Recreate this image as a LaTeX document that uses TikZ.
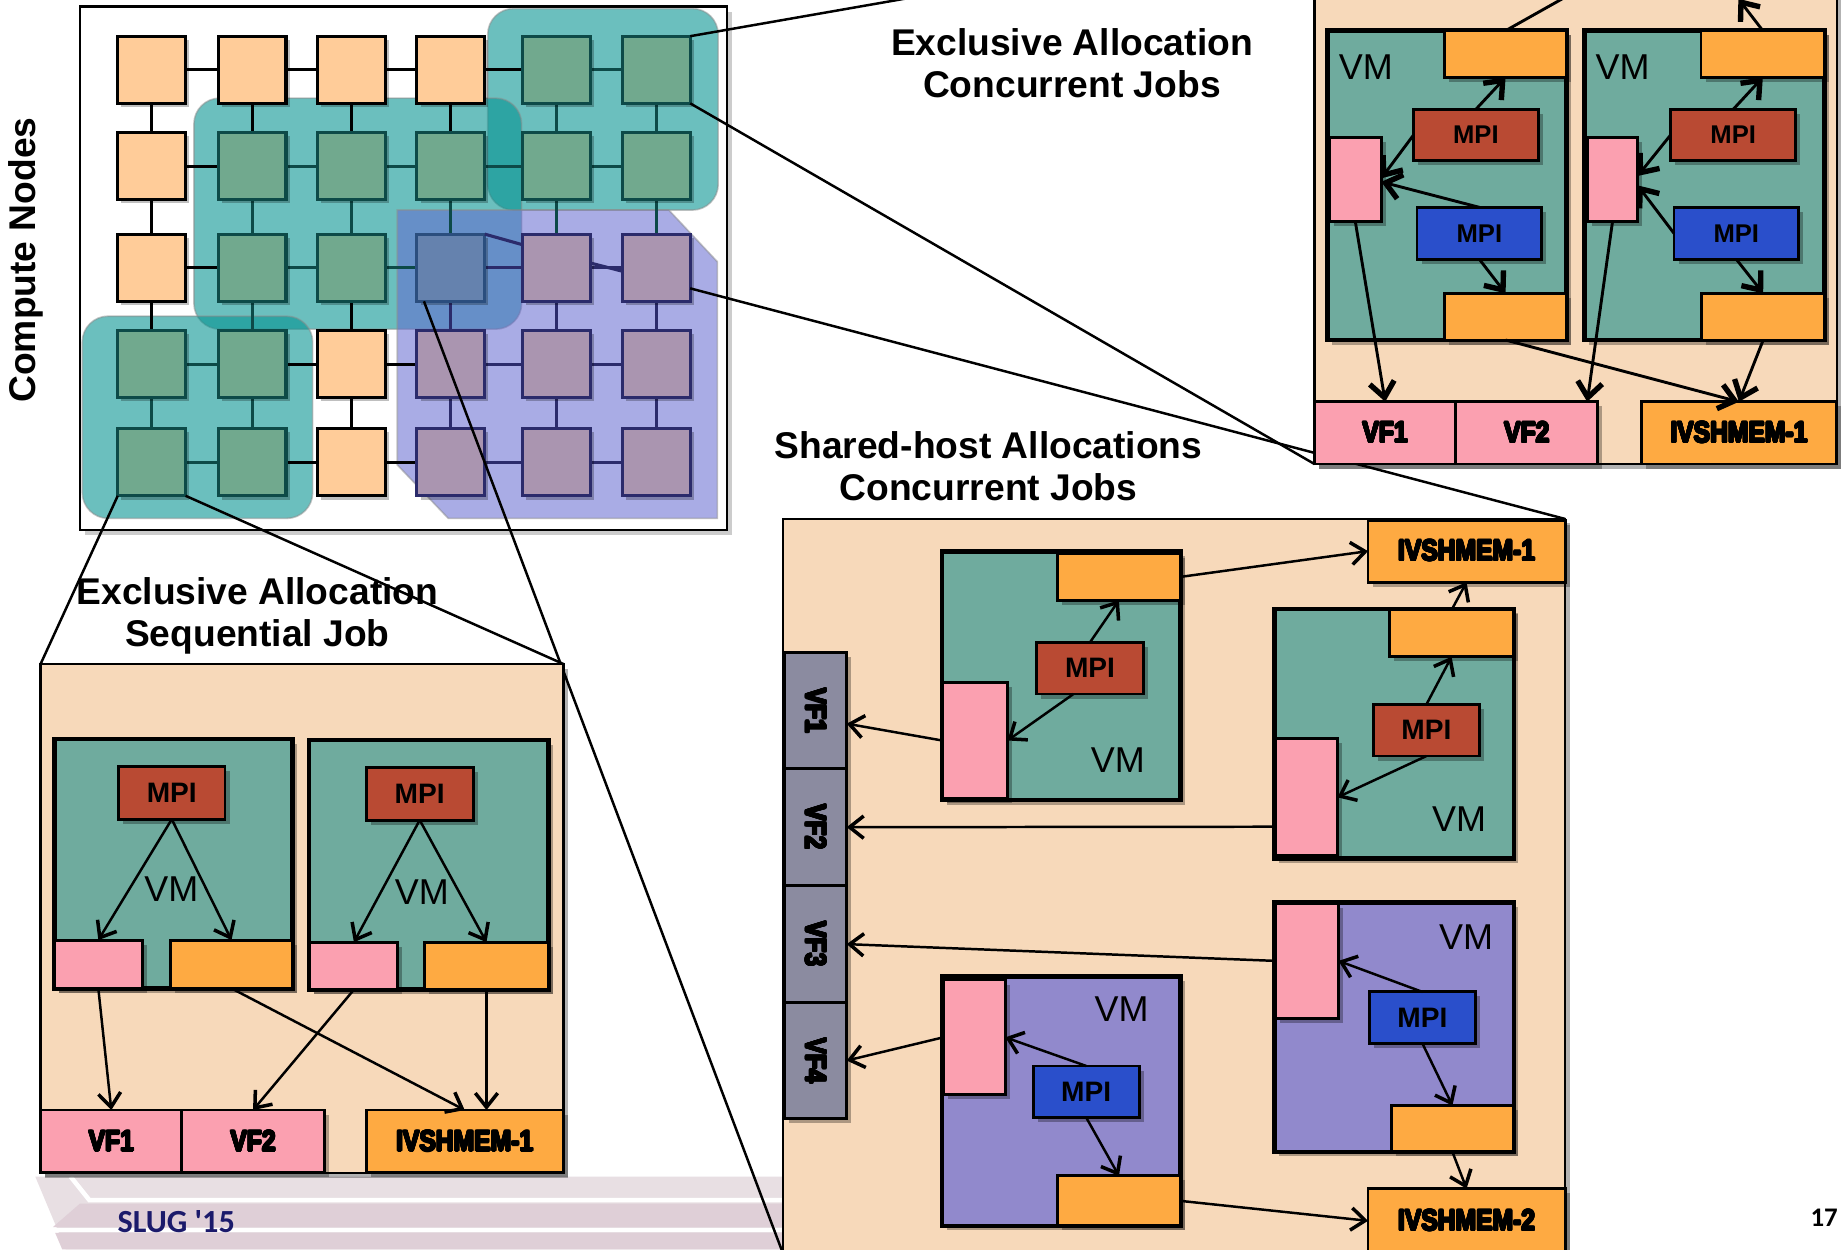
\documentclass[tikz,border=0pt]{standalone}
\usepackage{fontspec}
\usepackage{graphicx}
\usepackage[copies]{contour}
\contourlength{0.22pt}
\contournumber{16}
\setmainfont{Liberation Sans}
\newfontfamily\heavy{Liberation Sans}[FakeStretch=0.84]
\newfontfamily\calib{Carlito}
\usetikzlibrary{arrows.meta,shadows,calc}

% palette
\definecolor{peach}{HTML}{F7D9BA}
\definecolor{pinkb}{HTML}{FBA0B0}
\definecolor{orng}{HTML}{FEAA42}
\definecolor{mpir}{HTML}{B94A33}
\definecolor{mpib}{HTML}{2A4FCB}
\definecolor{vmteal}{HTML}{6FAB9E}
\definecolor{vmpurp}{HTML}{9189CC}
\definecolor{vfgray}{HTML}{8B8BA0}
\definecolor{sqor}{HTML}{FFCC99}
\definecolor{sqgr}{HTML}{71A98E}
\definecolor{sqpu}{HTML}{AA95B0}
\definecolor{sqbl}{HTML}{6582AE}
\definecolor{bdbl}{HTML}{2B4E7E}
\definecolor{lkgr}{HTML}{0D4A48}
\definecolor{lkpu}{HTML}{2B2B6B}
\definecolor{regteal}{RGB}{1,146,144}
\definecolor{regpurp}{RGB}{99,104,209}
\definecolor{slug}{HTML}{1B1A6B}
\definecolor{deco1}{HTML}{E8DFE3}
\definecolor{deco2}{HTML}{DFCFD7}

% a box given by its two corners: style, name, x1, y1, x2, y2, text
\newcommand\boxat[7]{%
  \node[#1,minimum width={((#5)-(#3))*0.01cm},minimum height={((#6)-(#4))*0.01cm}]
    (#2) at ({((#3)+(#5))/2},{((#4)+(#6))/2}) {#7};}
% heavy label text
\newcommand\hv[1]{\contour{black}{#1}}

\tikzset{
  sh/.style={drop shadow={shadow xshift=1.1pt,shadow yshift=-1.1pt,fill=black,opacity=0.3}},
  bxs/.style={rectangle,inner sep=0pt,outer sep=0pt,draw=black,line width=0.7pt,sh},
  vmt/.style={bxs,fill=vmteal,line width=1.1pt},
  vmp/.style={bxs,fill=vmpurp,line width=1.1pt},
  pk/.style={bxs,fill=pinkb},
  ob/.style={bxs,fill=orng},
  mr/.style={bxs,fill=mpir,font=\bfseries\fontsize{6.8}{7}\selectfont},
  mb/.style={bxs,fill=mpib,font=\bfseries\fontsize{6.8}{7}\selectfont},
  small/.style={font=\bfseries\fontsize{6.2}{6.5}\selectfont},
  lbl/.style={font=\heavy\bfseries\fontsize{7.1}{7.1}\selectfont},
  vf/.style={bxs,fill=pinkb,lbl},
  vfg/.style={bxs,fill=vfgray,lbl},
  iv/.style={bxs,fill=orng,lbl},
  vmtxt/.style={font=\fontsize{8.7}{9}\selectfont,inner sep=0pt},
  panel/.style={rectangle,inner sep=0pt,outer sep=0pt,draw=black,line width=0.6pt,fill=peach,sh},
  gframe/.style={rectangle,inner sep=0pt,outer sep=0pt,draw=black,line width=0.6pt,fill=white,
      drop shadow={shadow xshift=1.3pt,shadow yshift=-1.3pt,fill=black,opacity=0.2}},
  title/.style={font=\bfseries\fontsize{9}{10.2}\selectfont,align=center,inner sep=0pt},
  arr/.style={line width=0.6pt,-{Straight Barb[length=1.2mm,width=1.9mm,line width=0.85pt]}},
  arrT/.style={line width=0.7pt,-{Straight Barb[length=1.3mm,width=2.1mm,line width=1.3pt]}},
  proj/.style={line width=0.6pt,draw=black},
  link/.style={line width=0.75pt},
  sq/.style={rectangle,inner sep=0pt,outer sep=0pt,minimum width=0.577cm,minimum height=0.571cm,
      line width=0.75pt,drop shadow={shadow xshift=0.9pt,shadow yshift=-0.9pt,fill=black,opacity=0.25}},
  sqo/.style={sq,fill=sqor,draw=black},
  sqg/.style={sq,fill=sqgr,draw=lkgr},
  sqp/.style={sq,fill=sqpu,draw=lkpu},
  sqb/.style={sq,fill=sqbl,draw=bdbl},
  regT/.style={fill=regteal,fill opacity=0.58,draw=black!45,draw opacity=0.5,line width=0.4pt,rounded corners=0.22cm},
  regP/.style={fill=regpurp,fill opacity=0.55,draw=black!45,draw opacity=0.5,line width=0.4pt},
}

\begin{document}
\begin{tikzpicture}[x=0.01cm,y=-0.01cm]
\useasboundingbox (0,0) rectangle (1568,1063);
\fill[white] (0,0) rectangle (1568,1063);

% slide template bands
\fill[deco1] (30,1001) -- (668,1001) -- (668,1063) -- (56,1063) -- cycle;
\fill[deco2] (68,1024) -- (668,1024) -- (668,1044) -- (45,1044) -- cycle;
\fill[deco2] (47,1049) -- (668,1049) -- (668,1063) -- (53,1063) -- cycle;
\draw[white,line width=1.1pt] (60,1001) -- (76,1021) -- (668,1021);
\draw[white,line width=1.1pt] (42,1046.5) -- (668,1046.5);

% compute node grid
\boxat{gframe}{gp}{68}{5.5}{618.5}{451}{}
\draw[regT] (415,7.3) rectangle (611,178.7);
\draw[regT] (165,83.5) rectangle (443.8,280);
\draw[regT] (70,269) rectangle (266,441);
\draw[regP] (338,178.7) -- (569,178.7) -- (610.3,222.7) -- (610.3,441)
    -- (381.4,441) -- (338,395.5) -- cycle;

% positions of the nodes (links are drawn between them, squares on top)
\foreach \rw/\yy in {1/59.35,2/141.35,3/227.75,4/309.85,5/393.25}{
  \foreach \xx [count=\cc] in {129.05,214.45,298.95,383.55,473.35,558.35}{
    \coordinate (p-\rw-\cc) at (\xx,\yy);
  }
}
% horizontal links
\foreach \rw/\cc/\cl in {1/1/black,1/2/black,1/3/black,1/4/black,1/5/lkgr,
    2/1/black,2/2/lkgr,2/3/lkgr,2/4/lkgr,2/5/lkgr,
    3/1/black,3/2/lkgr,3/3/lkgr,3/4/lkpu,3/5/lkpu,
    4/1/lkgr,4/2/black,4/3/black,4/4/lkpu,4/5/lkpu,
    5/1/lkgr,5/2/black,5/3/black,5/4/lkpu,5/5/lkpu}{
  \pgfmathtruncatemacro\cn{\cc+1}
  \draw[link,draw=\cl] (p-\rw-\cc) -- (p-\rw-\cn);
}
% vertical links
\foreach \cc/\rw/\cl in {1/1/black,1/2/black,1/3/black,1/4/lkgr,
    2/1/black,2/2/lkgr,2/3/lkgr,2/4/lkgr,
    3/1/black,3/2/lkgr,3/3/black,3/4/black,
    4/1/black,4/2/lkgr,4/3/lkpu,4/4/lkpu,
    5/1/lkgr,5/2/lkgr,5/3/lkpu,5/4/lkpu,
    6/1/lkgr,6/2/lkgr,6/3/lkpu,6/4/lkpu}{
  \pgfmathtruncatemacro\rn{\rw+1}
  \draw[link,draw=\cl] (p-\rw-\cc) -- (p-\rn-\cc);
}
% compute nodes
\foreach \rw/\tys in {1/{o,o,o,o,g,g},2/{o,g,g,g,g,g},3/{o,g,g,b,p,p},
    4/{g,g,o,p,p,p},5/{g,g,o,p,p,p}}{
  \foreach \ty [count=\cc] in \tys {
    \edef\tmp{\noexpand\node[sq\ty] (g-\rw-\cc) at (p-\rw-\cc) {};}\tmp
  }
}
\draw[link,draw=lkpu] (g-3-4.north east) -- ($(g-3-5.north west)+(0,9)$);
\draw[link,draw=lkpu] ($(g-3-5.east)+(0,-4)$) -- ($(g-3-6.west)+(0,3)$);

\node[rotate=90,font=\bfseries\fontsize{9}{10}\selectfont,inner sep=0pt] (cn) at (21.6,221.2) {Compute Nodes};

% corners of the detail panels
\coordinate (tpNW) at (1118.4,-62);
\coordinate (tpSW) at (1118.4,394.8);
\coordinate (hpNE) at (1331.6,441.5);
\coordinate (hpSW) at (666,1066);
\coordinate (spNW) at (34.5,565);
\coordinate (spNE) at (479.5,565);

% zoom lines from the grid to the detail panels
\draw[proj] (g-1-6.north east) -- (tpNW);
\draw[proj] (g-1-6.south east) -- (tpSW);
\draw[proj] ($(g-3-6.south east)+(0,-11)$) -- (hpNE);
\draw[proj] ($(g-3-4.south west)+(6,0)$) -- (hpSW);
\draw[proj] (g-5-1.south west) -- (spNW);
\draw[proj] (g-5-1.south east) -- (spNE);

% titles
\node[title] (t1) at (912,53.5) {Exclusive Allocation\\Concurrent Jobs};
\node[title] (t2) at (841,396.5) {Shared-host Allocations\\Concurrent Jobs};
\node[title] (t3) at (219,524) {Exclusive Allocation\\Sequential Job};

% ---------- exclusive allocation, concurrent jobs ----------
\boxat{panel}{tpanel}{1118.4}{-62}{1562.7}{394.8}{}
\boxat{vmt}{tvm1}{1129.6}{26.1}{1332.9}{289.3}{}
\boxat{ob}{tor1t}{1229}{26.1}{1332.9}{65.8}{}
\boxat{mr,small}{tmr1}{1202.6}{93}{1308.7}{136.7}{MPI}
\boxat{pk}{tpk1}{1131}{116.8}{1175.2}{188.6}{}
\boxat{mb,small}{tmb1}{1205.6}{176.4}{1311.7}{220.6}{MPI}
\boxat{ob}{tor1b}{1229}{249.6}{1332.9}{289.3}{}
\node[vmtxt] (tvmt1) at (1162,56.7) {VM};
\boxat{vmt}{tvm2}{1348.2}{26.1}{1552.4}{289.3}{}
\boxat{ob}{tor2t}{1447.2}{26.1}{1552.4}{65.8}{}
\boxat{mr,small}{tmr2}{1421.3}{93}{1527.9}{136.7}{MPI}
\boxat{pk}{tpk2}{1350.5}{116.8}{1393.3}{188.6}{}
\boxat{mb,small}{tmb2}{1424.2}{176.4}{1530.3}{220.6}{MPI}
\boxat{ob}{tor2b}{1447.8}{249.6}{1552.4}{289.3}{}
\node[vmtxt] (tvmt2) at (1380.4,56.7) {VM};
\boxat{vf}{tvf1}{1118.4}{341.8}{1238.6}{394.8}{\hv{VF1}}
\boxat{vf}{tvf2}{1238.6}{341.8}{1359.4}{394.8}{\hv{VF2}}
\boxat{iv}{tivs}{1396.2}{341.8}{1562.7}{394.8}{\hv{IVSHMEM-1}}
\coordinate (tup1) at (1370,-24);
\coordinate (tup2) at (1479,-1);
\draw[arrT] (tmr1.north) -- (tor1t.south);
\draw[arrT] (tmr1.west) -- ($(tpk1.east)+(0,-1)$);
\draw[arrT] (tmb1.north) -- ($(tpk1.east)+(0,2)$);
\draw[arrT] (tmb1.south) -- (tor1b.north);
\draw[arrT] (tpk1.south) -- (tvf1.north);
\draw[arrT] (tor1b.south) -- (tivs.north);
\draw[arrT] (tmr2.north) -- (tor2t.south);
\draw[arrT] (tmr2.west) -- ($(tpk2.east)+(0,-3)$);
\draw[arrT] (tmb2.west) -- ($(tpk2.east)+(0,5)$);
\draw[arrT] (tmb2.south) -- (tor2b.north);
\draw[arrT] (tpk2.south) -- ($(tvf2.north east)+(-9,0)$);
\draw[arrT] (tor2b.south) -- (tivs.north);
\draw[arrT] (tor1t.north) -- (tup1);
\draw[arrT] (tor2t.north) -- (tup2);

% ---------- exclusive allocation, sequential job ----------
\boxat{panel}{spanel}{34.5}{565}{479.5}{998}{}
\boxat{vmt}{svm1}{46.2}{628.9}{249}{840.9}{}
\boxat{mr}{smp1}{100.9}{652.1}{191.4}{697}{MPI}
\boxat{pk}{spk1}{46.2}{799.8}{121.1}{840.9}{}
\boxat{ob}{sor1}{144.9}{799.8}{249}{840.9}{}
\node[vmtxt] (svmt1) at (145.8,756.8) {VM};
\boxat{vmt}{svm2}{263}{629.7}{466.5}{842}{}
\boxat{mr}{smp2}{311.5}{653.2}{402.7}{697.7}{MPI}
\boxat{pk}{spk2}{263.7}{801.6}{338.5}{842}{}
\boxat{ob}{sor2}{361.3}{801.6}{466.5}{842}{}
\node[vmtxt] (svmt2) at (359,759.4) {VM};
\boxat{vf}{svf1}{34.8}{944.4}{154.6}{997.9}{\hv{VF1}}
\boxat{vf}{svf2}{154.6}{944.4}{276}{997.9}{\hv{VF2}}
\boxat{iv}{sivs}{311.5}{944.4}{479.2}{997.9}{\hv{IVSHMEM-1}}
\draw[arr] (smp1.south) -- (spk1.north);
\draw[arr] (smp1.south) -- (sor1.north);
\draw[arr] (smp2.south) -- (spk2.north);
\draw[arr] (smp2.south) -- (sor2.north);
\draw[arr] (spk1.south) -- (svf1.north);
\draw[arr] (sor1.south) -- (sivs.north);
\draw[arr] (spk2.south) -- (svf2.north);
\draw[arr] (sor2.south) -- (sor2.south |- sivs.north);

% ---------- shared-host allocations ----------
\boxat{panel}{hpanel}{666}{441.5}{1331.6}{1066}{}
\boxat{iv}{hiv1}{1163.9}{442.5}{1331.6}{495.3}{\hv{IVSHMEM-1}}
\boxat{iv}{hiv2}{1163.9}{1011.3}{1331.6}{1066}{\hv{IVSHMEM-2}}
\boxat{vfg}{hvf1}{667.1}{555.4}{720.4}{654}{\rotatebox{-90}{\hv{VF1}}}
\boxat{vfg}{hvf2}{667.1}{654}{720.4}{753.5}{\rotatebox{-90}{\hv{VF2}}}
\boxat{vfg}{hvf3}{667.1}{753.5}{720.4}{853}{\rotatebox{-90}{\hv{VF3}}}
\boxat{vfg}{hvf4}{667.1}{853}{720.4}{951.6}{\rotatebox{-90}{\hv{VF4}}}

\boxat{vmt}{hvmA}{801.6}{469.3}{1004.4}{680.6}{}
\boxat{ob}{horA}{899.6}{470.9}{1004.4}{510.7}{}
\boxat{mr}{hmA}{882.2}{546.5}{972.5}{590.4}{MPI}
\boxat{pk}{hpkA}{801.6}{580.6}{857.2}{679.4}{}
\node[vmtxt] (hvmtA) at (951.1,646.9) {VM};

\boxat{vmt}{hvmB}{1084.2}{518}{1287.9}{730.2}{}
\boxat{ob}{horB}{1182.1}{518.9}{1287.9}{558.7}{}
\boxat{mr}{hmB}{1168.5}{599.3}{1258.7}{643.2}{MPI}
\boxat{pk}{hpkB}{1085.1}{628.6}{1137.9}{728.1}{}
\node[vmtxt] (hvmtB) at (1241.4,696.8) {VM};

\boxat{vmp}{hvmC}{1084.2}{767.9}{1287.9}{980}{}
\boxat{pk}{hpkC}{1085.1}{768.7}{1138.8}{866.3}{}
\boxat{mb}{hmC}{1165.3}{843.9}{1255.1}{887.8}{MPI}
\boxat{ob}{horC}{1183.5}{940.6}{1287.9}{980}{}
\node[vmtxt] (hvmtC) at (1247.3,797.2) {VM};

\boxat{vmp}{hvmD}{801.6}{830.9}{1004.4}{1043}{}
\boxat{pk}{hpkD}{802.5}{833.8}{855.3}{931.3}{}
\boxat{mb}{hmD}{879}{906.9}{969.3}{950.8}{MPI}
\boxat{ob}{horD}{899.6}{1000.4}{1004.4}{1043}{}
\node[vmtxt] (hvmtD) at (954.3,858.2) {VM};

\draw[arr] (hmA.north) -- (horA.south);
\draw[arr] ($(hmA.south)+(-14,0)$) -- (hpkA.east);
\draw[arr] (hpkA.west) -- ($(hvf1.east)+(0,11)$);
\draw[arr] (horA.east) -- (hiv1.west);
\draw[arr] (hmB.north) -- (horB.south);
\draw[arr] (hmB.south) -- (hpkB.east);
\draw[arr] ($(hpkB.west)+(0,25)$) -- (hvf2.east);
\draw[arr] (horB.north) -- (hiv1.south);
\draw[arr] (hmC.north) -- (hpkC.east);
\draw[arr] (hmC.south) -- (horC.north);
\draw[arr] (hpkC.west) -- (hvf3.east);
\draw[arr] (horC.south) -- (hiv2.north);
\draw[arr] (hmD.north) -- (hpkD.east);
\draw[arr] (hmD.south) -- (horD.north);
\draw[arr] (hpkD.west) -- (hvf4.east);
\draw[arr] (horD.east) -- (hiv2.west);

% footer
\node[font=\calib\bfseries\fontsize{7.8}{8}\selectfont,text=slug,inner sep=0pt] (slug) at (150,1039) {SLUG \textquotesingle15};
\node[font=\calib\bfseries\fontsize{6.5}{7}\selectfont,inner sep=0pt] (pg) at (1552,1036) {17};
\end{tikzpicture}
\end{document}
